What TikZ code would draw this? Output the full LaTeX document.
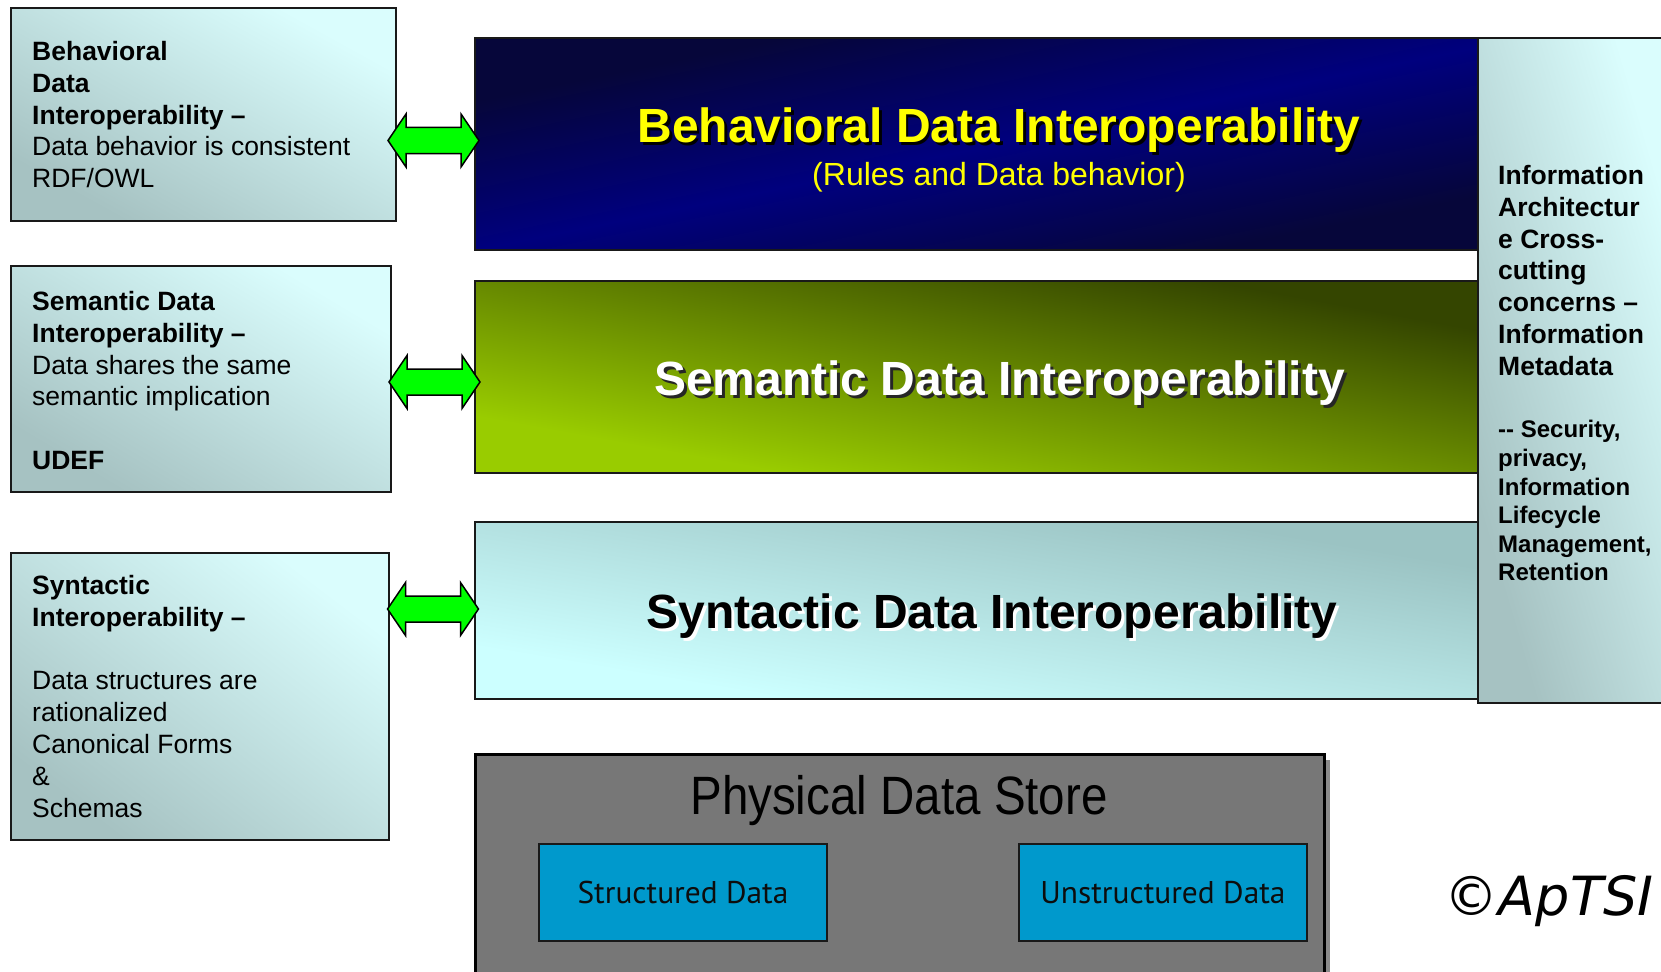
\documentclass[tikz,border=0pt]{standalone}
\usepackage{fontspec}
\setmainfont{Liberation Sans}
\newfontfamily\narrowsans[FakeStretch=0.88]{Liberation Sans}
\newfontfamily\humanist{PT Sans}
\newfontfamily\markfont{DejaVu Sans Oblique}

\definecolor{paleCyan}{HTML}{DAFDFD}
\definecolor{greyTeal}{HTML}{A6C2C2}
\definecolor{navyDark}{HTML}{06063A}
\definecolor{navyBright}{HTML}{00007E}
\definecolor{oliveDark}{HTML}{344500}
\definecolor{limeBright}{HTML}{99CC00}
\definecolor{cyanLight}{HTML}{CCFFFF}
\definecolor{cyanGrey}{HTML}{9BC3C3}
\definecolor{storeGrey}{HTML}{777777}
\definecolor{storeShadow}{HTML}{8A8A8A}
\definecolor{dataBlue}{HTML}{0099CC}
\definecolor{arrowGreen}{HTML}{00FF00}
\definecolor{titleYellow}{HTML}{FFFF00}

% diagonal gradient stretched over a whole rectangle: centre x, centre y, width, height, colours
\newcommand\diagfill[5]{%
  \shade[#5, transform canvas={shift={(#1,#2)}, xscale=#3/100, yscale=#4/100}]
    (-50,-50) rectangle (50,50);}

\tikzset{
  block/.style={draw=black!90, line width=2pt, rectangle, inner sep=0pt},
  noteshade/.style={top color=paleCyan, bottom color=greyTeal, shading angle=-45},
  blueshade/.style={top color=navyDark, bottom color=navyDark, middle color=navyBright, shading angle=45},
  greenshade/.style={top color=oliveDark, bottom color=limeBright, shading angle=-45},
  cyanshade/.style={top color=cyanGrey, bottom color=cyanLight, shading angle=-45},
  notetext/.style={inner sep=0pt, align=left, anchor=north west, text=black,
    font=\fontsize{26.5}{31.9}\selectfont},
  sidetext/.style={notetext, font=\bfseries\fontsize{26.5}{31.9}\selectfont},
  sidesmall/.style={notetext, font=\bfseries\fontsize{24}{28.6}\selectfont},
  bigtitle/.style={inner sep=0pt, anchor=base, font=\bfseries\fontsize{48}{56}\selectfont},
  storebox/.style={draw=black, line width=3pt, fill=storeGrey, rectangle, inner sep=0pt},
  databox/.style={draw=black!90, line width=2pt, fill=dataBlue, rectangle, inner sep=0pt},
  datatext/.style={inner sep=0pt, anchor=base, text=black!95, font=\humanist\fontsize{31.4}{36}\selectfont},
  arrowstyle/.style={draw=black, line width=1.5pt, fill=arrowGreen, line join=miter},
  dblarrow/.pic={
    \draw[arrowstyle] (-45.5,0) -- (-27.5,-26.5) -- (-27.5,-13) -- (27.5,-13)
      -- (27.5,-26.5) -- (45.5,0) -- (27.5,26.5) -- (27.5,13) -- (-27.5,13)
      -- (-27.5,26.5) -- cycle;
  }
}

\begin{document}
\begin{tikzpicture}[x=1pt,y=-1pt]
\useasboundingbox (0,0) rectangle (1661,971);
\fill[white] (0,0) rectangle (1661,971);

% left-hand description boxes
\diagfill{203.5}{114.5}{385}{213}{noteshade}
\diagfill{201}{379}{380}{226}{noteshade}
\diagfill{200}{696.5}{378}{287}{noteshade}
\node[block, minimum width=385pt, minimum height=213pt] (lb1) at (203.5,114.5) {};
\node[block, minimum width=380pt, minimum height=226pt] (lb2) at (201,379) {};
\node[block, minimum width=378pt, minimum height=287pt] (lb3) at (200,696.5) {};

\node[notetext] (lb1t) at (32,37.7) {\strut\textbf{Behavioral}\\
  \textbf{Data}\\ \textbf{Interoperability –}\\ Data behavior is consistent\\ RDF/OWL};
\node[notetext] (lb2t) at (32,287.7) {\strut\textbf{Semantic Data}\\
  \textbf{Interoperability –}\\ Data shares the same\\ semantic implication\\[31.9pt] \textbf{UDEF}};
\node[notetext] (lb3t) at (32,571.7) {\strut\textbf{Syntactic}\\
  \textbf{Interoperability –}\\[31.9pt] Data structures are\\ rationalized\\ Canonical Forms\\ \&\\ Schemas};

% the three interoperability layers
\diagfill{999}{144}{1048}{212}{blueshade}
\diagfill{999}{377}{1048}{192}{greenshade}
\diagfill{999}{610.5}{1048}{177}{cyanshade}
\node[block, minimum width=1048pt, minimum height=212pt] (bar1) at (999,144) {};
\node[block, minimum width=1048pt, minimum height=192pt] (bar2) at (999,377) {};
\node[block, minimum width=1048pt, minimum height=177pt] (bar3) at (999,610.5) {};

\node[bigtitle, text=black] (t1s) at (1001.5,145.2) {Behavioral Data Interoperability};
\node[bigtitle, text=titleYellow] (t1) at (999,142.7) {Behavioral Data Interoperability};
\node[inner sep=0pt, anchor=base, text=titleYellow, font=\fontsize{32}{38}\selectfont] (t1b) at (999,185) {(Rules and Data behavior)};

\node[bigtitle, text=black!85] (t2s) at (1002.5,398) {Semantic Data Interoperability};
\node[bigtitle, text=white] (t2) at (999.5,395) {Semantic Data Interoperability};

\node[bigtitle, text=white] (t3s) at (995,631) {Syntactic Data Interoperability};
\node[bigtitle, text=black] (t3) at (992,628) {Syntactic Data Interoperability};

% cross-cutting concerns column
\diagfill{1576.5}{370.5}{197}{665}{noteshade}
\node[block, minimum width=197pt, minimum height=665pt] (rbox) at (1576.5,370.5) {};
\node[sidetext] (rbt1) at (1498,161.7) {\strut Information\\ Architectur\\ e Cross-\\
  cutting\\ concerns –\\ Information\\ Metadata};
\node[sidesmall] (rbt2) at (1498,417.6) {\strut -{}- Security,\\ privacy,\\ Information\\
  Lifecycle\\ Management,\\ Retention};

% block arrows between descriptions and layers
\pic (a1) at (433.5,140.5) {dblarrow};
\pic (a2) at (434.5,382) {dblarrow};
\pic (a3) at (433,609) {dblarrow};

% physical store
\fill[storeShadow] (481,760) rectangle (1330,990);
\node[storebox, minimum width=849pt, minimum height=240pt] (store) at (899.5,874) {};
\node[inner sep=0pt, anchor=base, text=black, font=\narrowsans\fontsize{54}{60}\selectfont] (storet) at (899,814.5) {Physical Data Store};
\node[databox, minimum width=288pt, minimum height=97pt] (sd1) at (683,892.5) {};
\node[databox, minimum width=288pt, minimum height=97pt] (sd2) at (1163,892.5) {};
\node[datatext] (sd1t) at (683,903) {Structured Data};
\node[datatext] (sd2t) at (1163,903) {Unstructured Data};

% copyright mark
\node[inner sep=0pt, anchor=base, text=black, font=\markfont\fontsize{54}{60}\selectfont] (mark) at (1549,915) {©ApTSI};
\end{tikzpicture}
\end{document}
